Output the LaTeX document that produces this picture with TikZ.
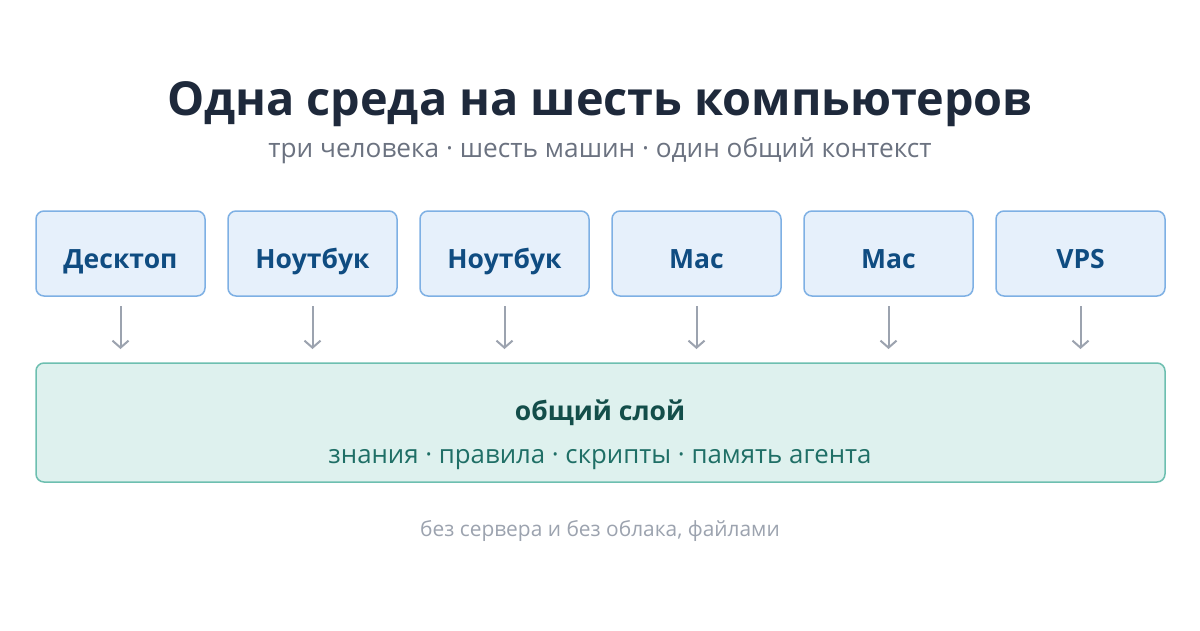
\documentclass[tikz,border=0pt]{standalone}
\usepackage{fontspec}
\setmainfont{Open Sans}
\usetikzlibrary{arrows.meta}
\definecolor{titlec}{HTML}{1E293B}
\definecolor{subc}{HTML}{6B7280}
\definecolor{footc}{HTML}{9CA3AF}
\definecolor{boxfill}{HTML}{E6F0FB}
\definecolor{boxdraw}{HTML}{7EB0E4}
\definecolor{boxtext}{HTML}{0F4C81}
\definecolor{layfill}{HTML}{DEF1EE}
\definecolor{laydraw}{HTML}{6DBFB0}
\definecolor{laytitle}{HTML}{134E4A}
\definecolor{laytext}{HTML}{1F6F66}
\definecolor{arrc}{HTML}{9CA3AF}
\tikzset{
  machine/.style={draw=boxdraw, fill=boxfill, line width=1.5pt, rounded corners=8pt,
    minimum width=169pt, minimum height=85pt, inner sep=0pt},
  mlabel/.style={anchor=base, inner sep=0pt, font=\fontsize{26.5}{30}\selectfont\bfseries, text=boxtext},
  flow/.style={draw=arrc, line width=2pt, -{Straight Barb[length=7pt,width=16pt,line width=2pt]}},
  txt/.style={anchor=base, inner sep=0pt},
}
\begin{document}
\begin{tikzpicture}[x=1pt,y=-1pt]
\useasboundingbox[fill=white] (0,0) rectangle (1200,630);
\node[txt, font=\fontsize{46.8}{52}\selectfont\bfseries, text=titlec] (title) at (600,115) {Одна среда на шесть компьютеров};
\node[txt, font=\fontsize{26.2}{28}\selectfont, text=subc] (sub) at (600,157) {три человека · шесть машин · один общий контекст};
\node[draw=laydraw, fill=layfill, line width=1.5pt, rounded corners=8pt, minimum width=1129pt, minimum height=119pt] (layer) at (600.5,422.5) {};
\node[txt, font=\fontsize{26.5}{28}\selectfont\bfseries, text=laytitle] (lt) at (600,420) {общий слой};
\node[txt, font=\fontsize{25.8}{26}\selectfont, text=laytext] (ls) at (600,463) {знания · правила · скрипты · память агента};
\foreach \i/\t in {0/Десктоп,1/Ноутбук,2/Ноутбук,3/Mac,4/Mac,5/VPS}{
  \node[machine] (m\i) at ({120.5+192*\i},253.5) {};
  \node[mlabel] (t\i) at ({120.5+192*\i},268) {\t};
  \coordinate (a\i) at ({120.5+192*\i},306);
  \coordinate (b\i) at ({120.5+192*\i},349);
  \draw[flow] (a\i) -- (b\i);
}
\node[txt, font=\fontsize{20.9}{22}\selectfont, text=footc] (foot) at (600,536) {без сервера и без облака, файлами};
\end{tikzpicture}
\end{document}
